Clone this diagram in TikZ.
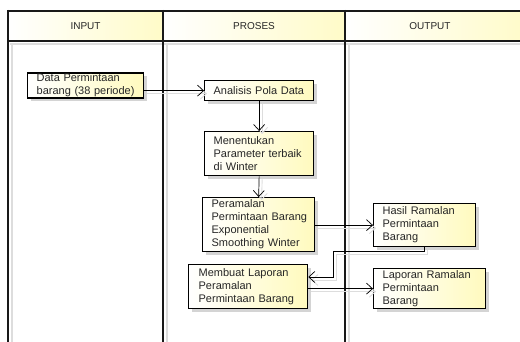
\documentclass[tikz,border=0pt]{standalone}
\usepackage{fontspec}
\setmainfont{Liberation Sans}
\usetikzlibrary{arrows.meta,shadows}
\definecolor{lanec}{RGB}{25,25,25}
\definecolor{yel}{RGB}{255,250,190}
\definecolor{hyel}{RGB}{255,251,200}
\definecolor{shad}{RGB}{212,212,212}
\tikzset{
  box/.style={draw=black, line width=1.3pt, left color=white, right color=yel,
    anchor=north west, inner sep=0pt, align=left,
    font=\fontsize{11}{13}\selectfont, text=black!85,
    drop shadow={shadow xshift=3pt, shadow yshift=-3pt, fill=shad, opacity=1}},
  conn/.style={draw=black, line width=0.7pt, -{Straight Barb[length=6pt,width=11pt]}},
  connsh/.style={draw=shad!80, line width=0.9pt, -{Straight Barb[length=6pt,width=11pt]}},
  lane/.style={draw=lanec, line width=1.8pt},
  laneshadow/.style={draw=shad!80, line width=1.2pt},
  hdr/.style={font=\fontsize{10}{12}\selectfont, text=black!85},
  hcell/.style={left color=white, right color=hyel, draw=none},
}
\begin{document}
\begin{tikzpicture}[x=1pt,y=-1pt]
\useasboundingbox (0,0) rectangle (520,342);
\clip (0,0) rectangle (520,342);
% header cells
\fill[hcell] (8,11) rectangle (163,41);
\fill[hcell] (163,11) rectangle (345,41);
\fill[hcell] (345,11) rectangle (530,41);
% lane shadows
\draw[laneshadow] (12,44) -- (12,350);
\draw[laneshadow] (167,44) -- (167,350);
\draw[laneshadow] (349,44) -- (349,350);
\draw[laneshadow] (10,44) -- (530,44);
% lane lines
\draw[lane] (8,11) -- (530,11);
\draw[lane] (8,41) -- (530,41);
\draw[lane] (8,10) -- (8,350);
\draw[lane] (163,10) -- (163,350);
\draw[lane] (345,10) -- (345,350);
% headers
\node[hdr] (hin) at (85.5,26) {INPUT};
\node[hdr] (hpr) at (254,26) {PROSES};
\node[hdr] (hout) at (430,26) {OUTPUT};
% boxes
\node[box, minimum width=116, minimum height=25, text width=98] (n1) at (27,72.5)
  {Data Permintaan\\barang~(38~periode)};
\node[box, minimum width=109, minimum height=20, text width=91] (n2) at (204,80)
  {Analisis~Pola~Data};
\node[box, minimum width=109, minimum height=44, text width=91] (n3) at (204,131)
  {Menentukan\\Parameter~terbaik\\di Winter};
\node[box, minimum width=112, minimum height=54, text width=94] (n4) at (202,197)
  {Peramalan\\Permintaan~Barang\\Exponential\\Smoothing~Winter};
\node[box, minimum width=102, minimum height=43, text width=84] (n5) at (373,203)
  {Hasil~Ramalan\\Permintaan\\Barang};
\node[box, minimum width=119, minimum height=44, text width=99] (n6) at (188,264)
  {Membuat~Laporan\\Peramalan\\Permintaan~Barang};
\node[box, minimum width=112, minimum height=40, text width=94] (n7) at (373,268)
  {Laporan~Ramalan\\Permintaan\\Barang};
\coordinate (b1) at (333,251);
\coordinate (b2) at (333,277);
% connector shadows
\begin{scope}[transform canvas={shift={(3pt,-3pt)}}]
\draw[connsh] (n1.east |- n2.west) -- (n2.west);
\draw[connsh] (n2.south) -- (n3.north);
\draw[connsh] (n3.south) -- (n4.north);
\draw[connsh] (n4.east |- n5.west) -- (n5.west);
\draw[connsh] (n5.south) |- (b1) -- (b2) -- (b2 -| n6.east);
\draw[connsh] (n6.east |- n7.west) -- (n7.west);
\end{scope}
% connectors
\draw[conn] (n1.east |- n2.west) -- (n2.west);
\draw[conn] (n2.south) -- (n3.north);
\draw[conn] (n3.south) -- (n4.north);
\draw[conn] (n4.east |- n5.west) -- (n5.west);
\draw[conn] (n5.south) |- (b1) -- (b2) -- (b2 -| n6.east);
\draw[conn] (n6.east |- n7.west) -- (n7.west);
\end{tikzpicture}
\end{document}
